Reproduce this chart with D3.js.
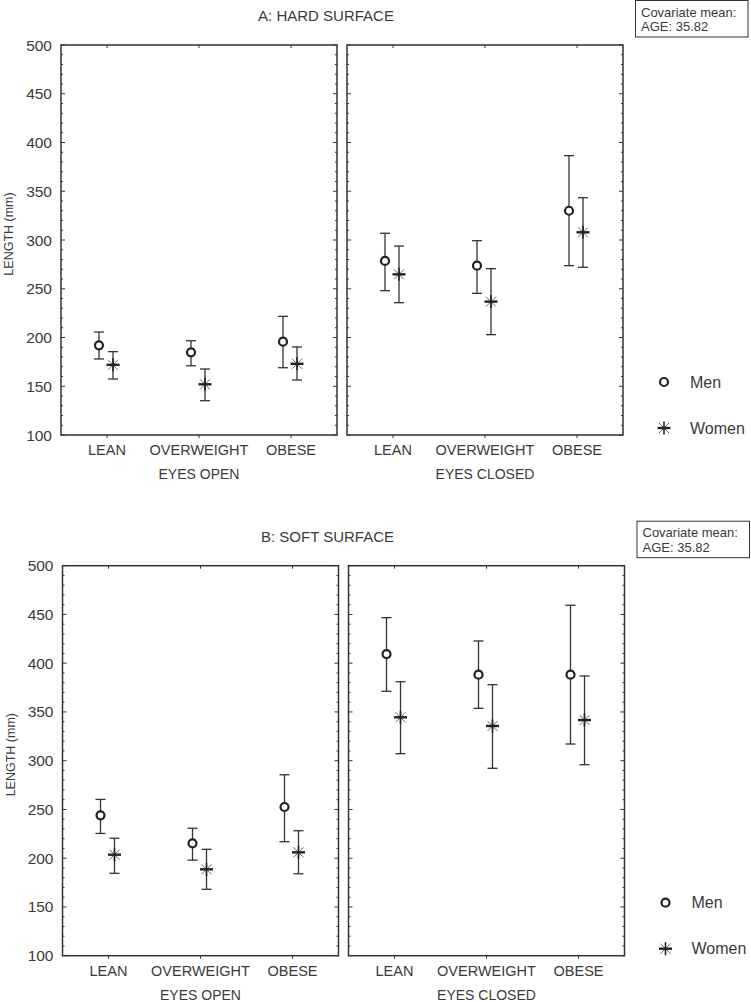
<!DOCTYPE html>
<html>
<head>
<meta charset="utf-8">
<script src="https://cdn.jsdelivr.net/npm/d3@7"></script>
<style>
  body { margin: 0; background: #fff; }
  text { font-family: "Liberation Sans", Arial, sans-serif; fill: #3a3a3a; }
</style>
</head>
<body>
<div id="chart"></div>
<script>
// categories
const groups = ["LEAN", "OVERWEIGHT", "OBESE"];
const conditions = ["EYES OPEN", "EYES CLOSED"];
const yTicks = [100, 150, 200, 250, 300, 350, 400, 450, 500];
const seriesNames = ["Men", "Women"];

// A: hard surface (eyes open x3, eyes closed x3)
const hardMen = [192, 184.8, 195.7, 278.5, 273.7, 330];
const hardMenLo = [178, 171, 169, 248, 245.3, 273.7];
const hardMenHi = [205.6, 196.7, 221.7, 306.9, 299.3, 386.5];
const hardWomen = [172, 152, 173, 264.8, 236.8, 307.9];
const hardWomenLo = [157.4, 135.2, 156.4, 235.7, 202.9, 272];
const hardWomenHi = [185.5, 167.7, 190.3, 293.8, 270.6, 343.4];

// B: soft surface
const softMen = [244, 215.3, 252.5, 409.4, 388.2, 388.2];
const softMenLo = [225.4, 198, 216.9, 371.2, 353.7, 317.1];
const softMenHi = [260.3, 230.7, 285.6, 446.7, 422.8, 459.4];
const softWomen = [203.6, 188.6, 206, 344.5, 335.6, 341.7];
const softWomenLo = [184.5, 168.1, 184, 307.2, 292.2, 295.9];
const softWomenHi = [220.5, 209.1, 228.2, 381, 378, 386.9];

const svg = d3.select("#chart")
  .append("svg")
  .attr("width", 751)
  .attr("height", 1002);

const ink = "#333";

function drawPanel(title, x0, y0, men, menLo, menHi, women, womenLo, womenHi) {
  const g = svg.append("g").attr("transform", `translate(${x0},${y0})`);
  const plotH = 390, plotW = 276, gap = 10;

  const y = d3.scaleLinear().domain([100, 500]).range([plotH, 0]);

  // title
  g.append("text")
    .attr("x", 265).attr("y", -24)
    .attr("text-anchor", "middle")
    .style("font-size", "15px")
    .text(title);

  // covariate box
  g.append("rect")
    .attr("x", 574.5).attr("y", -44.5)
    .attr("width", 112.5).attr("height", 36.5)
    .attr("fill", "#fff").attr("stroke", ink).attr("stroke-width", 1);
  g.append("text").attr("x", 580).attr("y", -28.5).style("font-size", "13px").text("Covariate mean:");
  g.append("text").attr("x", 580).attr("y", -14).style("font-size", "13px").text("AGE: 35.82");

  // y label
  g.append("text")
    .attr("transform", `translate(-48,${plotH / 2 - 6}) rotate(-90)`)
    .attr("text-anchor", "middle")
    .style("font-size", "12.5px")
    .text("LENGTH (mm)");

  conditions.forEach((cond, ci) => {
    const px = ci * (plotW + gap);
    const p = g.append("g").attr("transform", `translate(${px},0)`);
    const x = d3.scaleBand().domain(groups).range([0, plotW]);

    // minor + major y ticks, both sides, inward
    const minor = d3.range(100, 501, 10);
    p.selectAll("line.minorL").data(minor).enter().append("line")
      .attr("x1", 0).attr("x2", d => d % 50 === 0 ? 4 : 2)
      .attr("y1", d => y(d)).attr("y2", d => y(d))
      .attr("stroke", ink).attr("stroke-width", 1);
    p.selectAll("line.minorR").data(minor).enter().append("line")
      .attr("x1", plotW).attr("x2", d => plotW - (d % 50 === 0 ? 4 : 2))
      .attr("y1", d => y(d)).attr("y2", d => y(d))
      .attr("stroke", ink).attr("stroke-width", 1);

    // category ticks
    p.selectAll("line.ct").data(groups).enter().append("line")
      .attr("x1", d => x(d) + x.bandwidth() / 2).attr("x2", d => x(d) + x.bandwidth() / 2)
      .attr("y1", 0).attr("y2", 3)
      .attr("stroke", ink);
    p.selectAll("line.cb").data(groups).enter().append("line")
      .attr("x1", d => x(d) + x.bandwidth() / 2).attr("x2", d => x(d) + x.bandwidth() / 2)
      .attr("y1", plotH).attr("y2", plotH + 3)
      .attr("stroke", ink);

    // frame
    p.append("rect")
      .attr("x", 0).attr("y", 0).attr("width", plotW).attr("height", plotH)
      .attr("fill", "none").attr("stroke", ink).attr("stroke-width", 1.5);

    // x labels
    p.selectAll("text.cat").data(groups).enter().append("text")
      .attr("x", d => x(d) + x.bandwidth() / 2)
      .attr("y", plotH + 20)
      .attr("text-anchor", "middle")
      .style("font-size", "14.5px")
      .text(d => d);
    p.append("text")
      .attr("x", plotW / 2).attr("y", plotH + 44)
      .attr("text-anchor", "middle")
      .style("font-size", "14px")
      .text(cond);

    // y tick labels on left panel
    if (ci === 0) {
      p.selectAll("text.yt").data(yTicks).enter().append("text")
        .attr("x", -9).attr("y", d => y(d) + 5.5)
        .attr("text-anchor", "end")
        .style("font-size", "15.5px")
        .text(d => d);
    }

    // points
    const rows = groups.map((grp, gi) => {
      const k = ci * 3 + gi;
      return {
        grp,
        men: men[k], menLo: menLo[k], menHi: menHi[k],
        women: women[k], womenLo: womenLo[k], womenHi: womenHi[k]
      };
    });

    rows.forEach(r => {
      const cx = x(r.grp) + x.bandwidth() / 2;
      const mx = cx - 8, wx = cx + 6;
      // error bars
      [[mx, r.menLo, r.menHi], [wx, r.womenLo, r.womenHi]].forEach(([ex, lo, hi]) => {
        p.append("line").attr("x1", ex).attr("x2", ex).attr("y1", y(lo)).attr("y2", y(hi))
          .attr("stroke", ink).attr("stroke-width", 1.3);
        [lo, hi].forEach(v => {
          p.append("line").attr("x1", ex - 5).attr("x2", ex + 5).attr("y1", y(v)).attr("y2", y(v))
            .attr("stroke", ink).attr("stroke-width", 1.3);
        });
      });
      // men circle
      p.append("circle").attr("cx", mx).attr("cy", y(r.men)).attr("r", 4)
        .attr("fill", "#fff").attr("stroke", "#222").attr("stroke-width", 2.2);
      // women asterisk
      drawStar(p, wx, y(r.women));
    });
  });

  // legend
  const lx = 603, ly1 = 337, ly2 = 383;
  g.append("circle").attr("cx", lx).attr("cy", ly1).attr("r", 4)
    .attr("fill", "#fff").attr("stroke", "#222").attr("stroke-width", 2.2);
  g.append("text").attr("x", lx + 26).attr("y", ly1 + 5.5).style("font-size", "16px").text(seriesNames[0]);
  drawStar(g, lx, ly2);
  g.append("text").attr("x", lx + 26).attr("y", ly2 + 5.5).style("font-size", "16px").text(seriesNames[1]);
}

function drawStar(sel, cx, cy) {
  const s = 6.5, d = 5;
  sel.append("line").attr("x1", cx - d).attr("y1", cy - d).attr("x2", cx + d).attr("y2", cy + d)
    .attr("stroke", "#666").attr("stroke-width", 1);
  sel.append("line").attr("x1", cx - d).attr("y1", cy + d).attr("x2", cx + d).attr("y2", cy - d)
    .attr("stroke", "#666").attr("stroke-width", 1);
  sel.append("line").attr("x1", cx).attr("y1", cy - s).attr("x2", cx).attr("y2", cy + s)
    .attr("stroke", "#222").attr("stroke-width", 1.6);
  sel.append("line").attr("x1", cx - s).attr("y1", cy).attr("x2", cx + s).attr("y2", cy)
    .attr("stroke", "#222").attr("stroke-width", 2.4);
}

drawPanel("A: HARD SURFACE", 61, 45, hardMen, hardMenLo, hardMenHi, hardWomen, hardWomenLo, hardWomenHi);
drawPanel("B: SOFT SURFACE", 62.5, 565.7, softMen, softMenLo, softMenHi, softWomen, softWomenLo, softWomenHi);
</script>
</body>
</html>
